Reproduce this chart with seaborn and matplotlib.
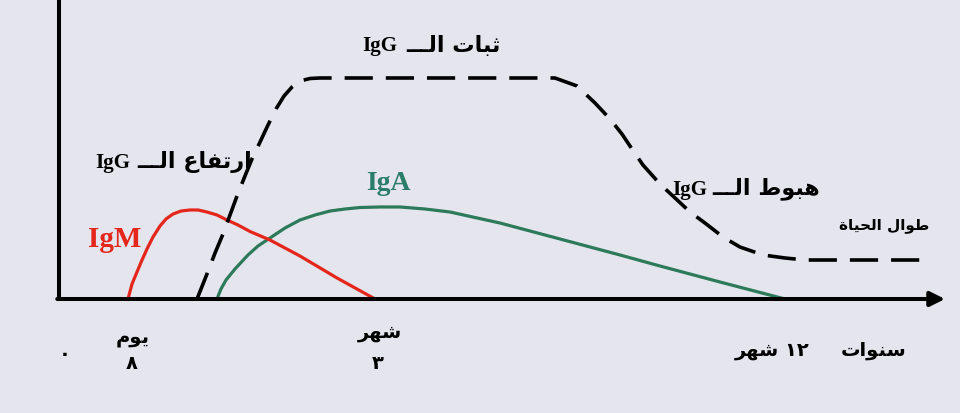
import matplotlib
matplotlib.use("Agg")
import matplotlib.pyplot as plt
import seaborn as sns
import pandas as pd

# ---------------- data (arbitrary units 0-100) ----------------
igm_x = [7.79, 8.24, 8.80, 9.37, 9.93, 10.61, 11.40, 12.08, 12.87, 13.77, 14.79, 15.69,
         16.70, 17.83, 18.96, 20.20, 21.56, 23.81, 27.20, 31.38, 35.67]
igm_y = [0, 5.0, 9.0, 13.0, 16.67, 20.67, 24.33, 26.67, 28.33, 29.33, 29.67, 29.67,
         29.0, 28.0, 26.33, 24.67, 22.5, 19.67, 14.33, 7.0, 0]

iga_x = [17.83, 18.28, 18.85, 19.86, 21.33, 22.46, 23.81, 25.51, 27.20, 28.89, 30.59, 32.28,
         33.97, 36.23, 38.49, 41.31, 44.13, 49.77, 56.55, 63.32, 67.83, 74.60, 81.94]
iga_y = [0, 3.33, 6.33, 10.0, 14.67, 17.67, 20.33, 23.67, 26.33, 28.0, 29.33, 30.0,
         30.5, 30.67, 30.67, 30.0, 29.0, 25.33, 20.0, 14.67, 11.0, 5.67, 0]

igg_x = [15.58, 16.70, 17.61, 18.51, 19.30, 20.09, 20.99, 21.78, 22.69, 23.59, 24.49, 25.40,
         26.30, 27.20, 28.33, 29.46, 55.98, 58.47, 60.50, 62.19, 63.54, 64.67, 65.91, 67.83,
         69.53, 71.22, 72.91, 74.94, 76.86, 79.46, 81.94, 84.20, 89.28, 98.31]
igg_y = [0, 8.33, 15.33, 21.67, 28.0, 34.33, 41.0, 46.67, 52.33, 58.0, 63.33, 67.67,
         70.67, 72.67, 73.5, 73.67, 73.67, 71.0, 65.33, 60.0, 55.0, 50.0, 44.67, 38.33,
         33.67, 29.0, 25.33, 20.67, 17.33, 14.67, 13.67, 13.0, 13.0, 13.0]

series_names = ["IgM", "IgA", "IgG"]
label_igg_rise = "ارتفاع الـــ"
label_igg_flat = "ثبات الـــ"
label_igg_fall = "هبوط الـــ"
label_life = "طوال الحياة"
tick_day = "يوم"
tick_month = "شهر"
tick_years = "سنوات"
num_zero = "٠"
num_eight = "٨"
num_three = "٣"
num_twelve = "١٢"

# ---------------- Arabic contextual shaping (presentation forms) ----------------
FORMS = {
    'ا': ('\uFE8D', '\uFE8E', None, None),
    'ب': ('\uFE8F', '\uFE90', '\uFE91', '\uFE92'),
    'ة': ('\uFE93', '\uFE94', None, None),
    'ت': ('\uFE95', '\uFE96', '\uFE97', '\uFE98'),
    'ث': ('\uFE99', '\uFE9A', '\uFE9B', '\uFE9C'),
    'ح': ('\uFEA1', '\uFEA2', '\uFEA3', '\uFEA4'),
    'ر': ('\uFEAD', '\uFEAE', None, None),
    'س': ('\uFEB1', '\uFEB2', '\uFEB3', '\uFEB4'),
    'ش': ('\uFEB5', '\uFEB6', '\uFEB7', '\uFEB8'),
    'ط': ('\uFEC1', '\uFEC2', '\uFEC3', '\uFEC4'),
    'ع': ('\uFEC9', '\uFECA', '\uFECB', '\uFECC'),
    'ف': ('\uFED1', '\uFED2', '\uFED3', '\uFED4'),
    'ل': ('\uFEDD', '\uFEDE', '\uFEDF', '\uFEE0'),
    'م': ('\uFEE1', '\uFEE2', '\uFEE3', '\uFEE4'),
    'ن': ('\uFEE5', '\uFEE6', '\uFEE7', '\uFEE8'),
    'ه': ('\uFEE9', '\uFEEA', '\uFEEB', '\uFEEC'),
    'و': ('\uFEED', '\uFEEE', None, None),
    'ي': ('\uFEF1', '\uFEF2', '\uFEF3', '\uFEF4'),
    'ـ': ('\u0640', '\u0640', '\u0640', '\u0640'),
}


def rtl(text):
    chars = list(text)
    out = []
    for i, c in enumerate(chars):
        if c not in FORMS:
            out.append(c)
            continue
        prev = chars[i - 1] if i > 0 else None
        nxt = chars[i + 1] if i + 1 < len(chars) else None
        jp = prev in FORMS and FORMS[prev][2] is not None
        jn = nxt in FORMS and FORMS[c][2] is not None
        iso, fin, ini, med = FORMS[c]
        out.append(med if (jp and jn) else fin if jp else ini if jn else iso)
    return "".join(out)[::-1]


# ---------------- style ----------------
BG = "#e5e5ee"
RED = "#e4261b"
GREEN = "#2c7a5a"
TEAL_TXT = "#2a7d66"

sns.set_theme(style="white")
plt.rcParams["font.family"] = ["Liberation Serif", "DejaVu Sans"]

W, H = 960, 414
fig = plt.figure(figsize=(W / 100, H / 100), dpi=100, facecolor=BG)
ax = fig.add_axes([59 / W, 114 / H, 886 / W, 300 / H])
ax.set_facecolor(BG)
ax.set_xlim(0, 100)
ax.set_ylim(0, 100)

df_a = pd.DataFrame({"x": iga_x, "y": iga_y})
df_m = pd.DataFrame({"x": igm_x, "y": igm_y})
df_g = pd.DataFrame({"x": igg_x, "y": igg_y})

sns.lineplot(data=df_a, x="x", y="y", sort=False, estimator=None, color=GREEN, lw=2.3, ax=ax)
sns.lineplot(data=df_m, x="x", y="y", sort=False, estimator=None, color=RED, lw=2.3, ax=ax)
sns.lineplot(data=df_g, x="x", y="y", sort=False, estimator=None, color="black", lw=2.6, ax=ax)
ax.lines[-1].set_dashes([7.8, 3.6])
for ln in ax.lines:
    ln.set_solid_capstyle("butt")
    ln.set_solid_joinstyle("round")
    ln.set_clip_on(False)

ax.set_xticks([])
ax.set_yticks([])
ax.set_xlabel("")
ax.set_ylabel("")
for s in ["top", "right", "bottom"]:
    ax.spines[s].set_visible(False)
ax.spines["left"].set_color("black")
ax.spines["left"].set_linewidth(2.9)
ax.annotate("", xy=(1.0, 0), xytext=(-0.002, 0), xycoords="axes fraction",
            arrowprops=dict(arrowstyle="-|>", lw=2.9, color="black",
                            mutation_scale=22, shrinkA=0, shrinkB=0),
            annotation_clip=False)


def ftxt(px, py, s, size, color="black", ha="center", family=None):
    kw = {}
    if family is not None:
        kw["family"] = family
    fig.text(px / W, 1 - py / H, s, ha=ha, va="center", fontsize=size,
             color=color, fontweight="bold", **kw)


def igg_label(ig_right, ar_left, py, arabic):
    ftxt(ig_right, py, "IgG", 15, ha="right", family=["Liberation Serif"])
    ftxt(ar_left, py - 1, rtl(arabic), 16, ha="left", family=["DejaVu Sans"])


igg_label(397, 406, 46, label_igg_flat)
igg_label(130, 137, 163, label_igg_rise)
igg_label(707, 712, 190, label_igg_fall)
ftxt(884, 226, rtl(label_life), 11, family=["DejaVu Sans"])
ftxt(115, 240, series_names[0], 21, color=RED, family=["Liberation Serif"])
ftxt(388, 184, series_names[1], 20, color=TEAL_TXT, family=["Liberation Serif"])

ftxt(65, 355, num_zero, 14, family=["DejaVu Sans"])
ftxt(133, 338, rtl(tick_day), 14, family=["DejaVu Sans"])
ftxt(132, 364, num_eight, 14, family=["DejaVu Sans"])
ftxt(380, 333, rtl(tick_month), 14, family=["DejaVu Sans"])
ftxt(378, 364, num_three, 14, family=["DejaVu Sans"])
ftxt(772, 351, rtl(tick_month) + " " + num_twelve, 14, family=["DejaVu Sans"])
ftxt(874, 351, rtl(tick_years), 14, family=["DejaVu Sans"])

fig.savefig("out.png", dpi=100, facecolor=BG)
